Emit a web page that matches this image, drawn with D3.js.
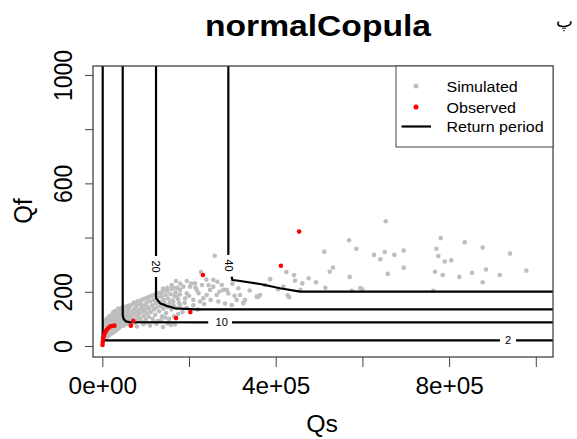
<!DOCTYPE html>
<html><head><meta charset="utf-8">
<script src="https://cdn.jsdelivr.net/npm/d3@7"></script>
<style>body{margin:0;background:#fff}svg{display:block}text{font-family:"Liberation Sans",Arial,sans-serif}</style>
</head><body><div id="chart"></div>
<script>
const title = "normalCopula";
const xLabel = "Qs", yLabel = "Qf";
const xTicks = [0,200000,400000,600000,800000,1000000];
const xTickLabels = ["0e+00","","4e+05","","8e+05",""];
const yTicks = [0,200,400,600,800,1000];
const yTickLabels = ["0","200","","600","","1000"];
const legendLabels = ["Simulated","Observed","Return period"];

// simulated pairs [Qs, Qf]
const simulated = [
[1000,30],[2000,45],[3000,60],[4000,40],[5000,75],[6000,55],[7000,90],[8000,65],[9000,48],[10000,80],[11000,100],[12000,60],[13000,72],[14000,95],[15000,52],[16000,85],[17000,110],[18000,68],[19000,78],[20000,98],
[21000,60],[22000,115],[23000,88],[24000,72],[25000,100],[26000,125],[27000,82],[28000,65],[29000,108],[30000,92],[31000,130],[32000,75],[33000,115],[34000,98],[35000,85],[36000,120],[37000,138],[38000,70],[39000,105],[40000,90],[41000,128],[42000,112],[43000,80],[44000,100],[45000,140],[46000,118],[47000,92],[48000,132],[49000,75],[50000,108],[52000,122],[53000,95],[54000,145],[55000,85],[56000,112],[57000,130],[58000,102],[59000,80],[60000,125],
[62000,140],[63000,95],[64000,115],[66000,150],[67000,105],[68000,88],[70000,130],[71000,118],[72000,158],[74000,100],[75000,138],[76000,85],[78000,125],[79000,148],[80000,110],[82000,165],[83000,95],[84000,132],[86000,120],[87000,155],[88000,102],[90000,140],[91000,170],[92000,88],[94000,128],[95000,150],[96000,112],[98000,175],[99000,135],[100000,98],[102000,160],[103000,122],[104000,145],[106000,180],[107000,108],[108000,138],[110000,165],
[112000,125],[113000,185],[115000,150],[116000,100],[118000,170],[119000,135],[121000,190],[122000,115],[124000,158],[125000,142],[127000,178],[128000,92],[130000,195],[131000,128],[133000,162],[134000,148],[136000,182],[138000,110],[139000,200],[141000,138],[142000,170],[144000,155],[146000,188],[147000,122],[149000,205],[150000,145],[152000,175],[154000,100],[155000,160],[157000,192],[159000,135],[160000,210],[162000,168],[164000,150],[166000,185],[167000,80],[169000,198],[171000,140],[173000,215],[175000,172],[177000,158],[179000,190],
[65000,78],[80000,72],[95000,80],[110000,76],[125000,82],[140000,70],[150000,84],[158000,78],[118000,90],[135000,95],[102000,88],[145000,105],[165000,110],[175000,118],[185000,125],[195000,140],[210000,150],[220000,135],[235000,155],[250000,170],[190000,160],[200000,185],[215000,215],[230000,225],[240000,245],[180000,230],[170000,240],[160000,225],[150000,215],[140000,212],
[3000,25],[6000,35],[9000,30],[12000,42],[15000,38],[20000,45],[25000,50],[30000,55],[35000,62],[40000,68],
[8000,96],[15000,108],[25000,122],[35000,128],[45000,135],[60000,148],[75000,160],[90000,168],[105000,178],[120000,188],[135000,196],[150000,205],[165000,215],
[186900,219],[179300,207],[171600,182],[194700,194],[190800,176],[209900,170],[225400,164],[233000,176],[163800,164],[179300,151],[160100,145],[202300,219],[213900,231],[217800,207],[248500,207],[240800,188],[263900,188],[267600,164],[283100,157],[298500,151],[256100,244],[256100,219],[275400,225],[279200,207],[290700,194],[313800,213],[317700,188],[310000,170],[329200,170],[356200,182],[259300,333],[227700,273],[265300,237],[287000,207],[325300,158],[359900,182],[386900,247],[195000,240],[205000,230],[222000,195],[245000,225],[270000,200],[300000,230],[340000,205],[305000,185],
[653800,460],[569100,390],[586000,359],[512200,348],[626800,336],[641400,320],[651500,347],[673700,336],[695300,352],[695300,289],[658400,266],[532200,289],[524600,274],[570700,255],[514500,215],[476100,250],[493000,235],[461400,231],[575400,204],[595200,214],[599800,209],[763600,204],[780700,398],[770500,359],[775200,332],[790000,312],[805100,316],[767500,274],[785300,262],[836000,383],[877500,363],[823600,255],[852900,270],[885200,282],[877500,235],[916800,262],[940600,341],[978200,278],[424500,273],[442300,262],[444600,241],[386900,246],[405300,209],[417600,219],[427700,187],[430700,180],[456800,207],[375400,225],[363800,188]
];
// observed pairs [Qs, Qf]
const observed = [
[500,4],[1000,15],[2000,26],[3500,37],[5000,44],[7000,52],[10000,59],[13500,66],[18000,72],[22000,74],[28000,75],
[66000,75],[71500,92],[170000,103],[203000,125],[232000,262],[412000,296],[454000,422]
];
// return period contour segments [Qs, Qf]
const contour2 = [
  [[900,1100],[900,24],[2500,21],[917500,21]],
  [[954400,21],[1100000,21]]
];
const contour10 = [
  [[47060,1100],[47060,114],[49000,100],[54000,91],[62000,88],[244300,87.5]],
  [[299200,87.5],[1100000,87.5]]
];
const contour20 = [
  [[123900,1100],[123900,332]],
  [[123900,255],[123900,176],[133100,158],[148600,148],[167700,139],[213900,135.4],[1100000,135.4]]
];
const contour40 = [
  [[290700,1100],[290700,336]],
  [[298500,256],[299900,243.5],[310100,241.7],[363800,228.8],[409900,213],[456100,200.4],[1100000,200.4]]
];
const contourLabels = [
  {text:"2", qs:936000, qf:21, rot:0},
  {text:"10", qs:275500, qf:87.5, rot:0},
  {text:"20", qs:123900, qf:293, rot:90},
  {text:"40", qs:291100, qf:297, rot:90}
];

const W=577,H=439;
const svg=d3.select("#chart").append("svg").attr("width",W).attr("height",H);
const x=d3.scaleLinear().domain([-21500,1039700]).range([93,553]);
const y=d3.scaleLinear().domain([-40.6,1033]).range([357,66]);

svg.append("defs").append("clipPath").attr("id","clip").append("rect")
  .attr("x",93).attr("y",66).attr("width",460).attr("height",291);

const plot=svg.append("g").attr("clip-path","url(#clip)");
plot.selectAll("circle.sim").data(simulated).join("circle").attr("class","sim")
  .attr("cx",d=>x(d[0])).attr("cy",d=>y(d[1])).attr("r",2.3).attr("fill","#bebebe");

const line=d3.line().x(d=>x(d[0])).y(d=>y(d[1]));
[contour2,contour10,contour20,contour40].forEach(c=>{
  c.forEach(seg=>plot.append("path").attr("d",line(seg)).attr("fill","none")
    .attr("stroke","#000").attr("stroke-width",2.2).attr("stroke-linejoin","round"));
});
plot.selectAll("text.cl").data(contourLabels).join("text").attr("class","cl")
  .attr("transform",d=>`translate(${x(d.qs)},${y(d.qf)}) rotate(${d.rot})`)
  .attr("text-anchor","middle").attr("dy","0.35em").attr("font-size",11).text(d=>d.text);

plot.selectAll("circle.obs").data(observed).join("circle").attr("class","obs")
  .attr("cx",d=>x(d[0])).attr("cy",d=>y(d[1])).attr("r",2.3).attr("fill","#ff0000");

// box
svg.append("rect").attr("x",93).attr("y",66).attr("width",460).attr("height",291)
  .attr("fill","none").attr("stroke","#444").attr("stroke-width",1.3);

// x axis
const gx=svg.append("g").attr("transform","translate(0,357)")
  .call(d3.axisBottom(x).tickValues(xTicks).tickFormat((d,i)=>xTickLabels[i]).tickSize(10).tickPadding(11));
gx.select(".domain").remove();
gx.selectAll("line").attr("stroke","#444");
gx.selectAll("text").attr("font-size",23).attr("fill","#000").attr("font-family","Liberation Sans, Arial, sans-serif")
  .attr("transform","scale(1.06,1)");

// y axis
const gy=svg.append("g").attr("transform","translate(93,0)")
  .call(d3.axisLeft(y).tickValues(yTicks).tickFormat((d,i)=>yTickLabels[i]).tickSize(8));
gy.select(".domain").remove();
gy.selectAll("line").attr("stroke","#444");
gy.selectAll("text").attr("font-size",23).attr("fill","#000").attr("font-family","Liberation Sans, Arial, sans-serif")
  .attr("x",null).attr("dy",null).attr("text-anchor","middle")
  .attr("transform","translate(-21.5,0) scale(1.12,1) rotate(-90)");

// titles
svg.append("text").attr("transform","translate(318,36) scale(1.16,1)").attr("text-anchor","middle")
  .attr("font-size",29).attr("font-weight","bold").text(title);
svg.append("text").attr("transform","translate(322,432) scale(1.08,1)").attr("text-anchor","middle")
  .attr("font-size",23).text(xLabel);
svg.append("text").attr("transform","translate(32,211) scale(1.1,1) rotate(-90)").attr("text-anchor","middle")
  .attr("font-size",24).text(yLabel);
svg.append("text").attr("x",564).attr("y",27).attr("text-anchor","middle")
  .attr("font-family","DejaVu Sans").attr("font-size",18).text("پ");

// legend
const lg=svg.append("g");
lg.append("rect").attr("x",396).attr("y",66).attr("width",157).attr("height",81)
  .attr("fill","#fff").attr("stroke","#444").attr("stroke-width",1);
const rows=[86,107,126.5];
lg.append("circle").attr("cx",416).attr("cy",rows[0]).attr("r",2.5).attr("fill","#bebebe");
lg.append("circle").attr("cx",416).attr("cy",rows[1]).attr("r",2.5).attr("fill","#ff0000");
lg.append("line").attr("x1",401.5).attr("x2",431).attr("y1",rows[2]).attr("y2",rows[2]).attr("stroke","#000").attr("stroke-width",2.2);
legendLabels.forEach((t,i)=>{
  lg.append("text").attr("transform",`translate(446.5,${rows[i]+5.5}) scale(1.07,1)`).attr("font-size",15).text(t);
});
</script></body></html>
